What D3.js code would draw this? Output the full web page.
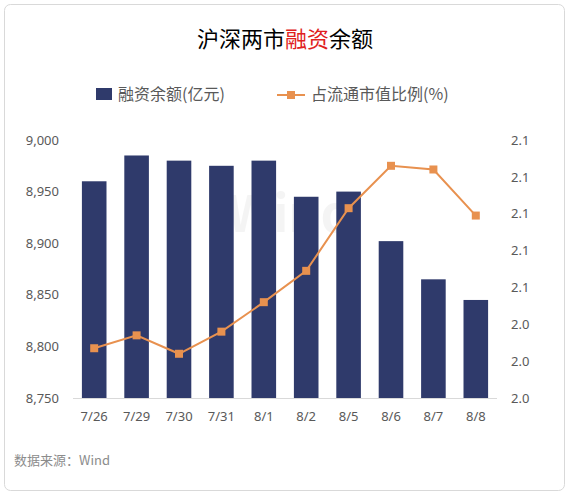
<!DOCTYPE html>
<html><head><meta charset="utf-8">
<script src="https://cdn.jsdelivr.net/npm/d3@7"></script>
<style>body{margin:0;background:#fff;font-family:"Noto Sans CJK SC","Noto Sans",sans-serif}</style>
</head><body><svg id="c" width="570" height="497"></svg>
<script>
const categories=["7/26","7/29","7/30","7/31","8/1","8/2","8/5","8/6","8/7","8/8"];
const balance=[8960,8985,8980,8975,8980,8945,8950,8902,8865,8845];
const ratio=[2.027,2.034,2.024,2.036,2.052,2.069,2.103,2.126,2.124,2.099];
const leftTicks=[8750,8800,8850,8900,8950,9000];
const rightTicks=[2.00,2.02,2.04,2.06,2.08,2.10,2.12,2.14];
const svg=d3.select("#c");
svg.append("rect").attr("x",4.5).attr("y",4.5).attr("width",560).attr("height",486).attr("rx",6).attr("fill","#fff").attr("stroke","#d9d9d9");
const L=73,R=497,T=140,B=398;
const x=d3.scaleBand().domain(categories).range([L,R]).paddingInner(0.42).paddingOuter(0.21);
const yL=d3.scaleLinear().domain([8750,9000]).range([B,T]);
const yR=d3.scaleLinear().domain([2.00,2.14]).range([B,T]);
const tc="#595959";
svg.append("text").attr("x",285).attr("y",47).attr("text-anchor","middle").attr("font-size",22).attr("fill","#000")
 .html('沪深两市<tspan fill="#e02020">融资</tspan>余额');
// legend
svg.append("rect").attr("x",96).attr("y",88).attr("width",16).attr("height",12).attr("fill","#2f3a6b");
svg.append("text").attr("x",118).attr("y",100).attr("font-size",16).attr("fill",tc).text("融资余额(亿元)");
svg.append("line").attr("x1",277).attr("x2",305).attr("y1",95).attr("y2",95).attr("stroke","#e8914f").attr("stroke-width",2);
svg.append("rect").attr("x",287).attr("y",91).attr("width",8).attr("height",8).attr("fill","#e8914f");
svg.append("text").attr("x",311).attr("y",100).attr("font-size",16).attr("fill",tc).text("占流通市值比例(%)");
// axes
const gl=svg.append("g").attr("transform",`translate(${L},0)`).call(d3.axisLeft(yL).tickValues(leftTicks).tickSize(0).tickPadding(14));
const gr=svg.append("g").attr("transform",`translate(${R},0)`).call(d3.axisRight(yR).tickValues(rightTicks).tickSize(0).tickPadding(14).tickFormat(d3.format(".1f")));
const gb=svg.append("g").attr("transform",`translate(0,${B})`).call(d3.axisBottom(x).tickSize(0).tickPadding(14));
[gl,gr,gb].forEach(g=>{g.select(".domain").remove();g.selectAll("text").attr("font-size",13).attr("fill",tc).attr("font-family","Noto Sans, sans-serif");});
svg.append("line").attr("x1",L).attr("x2",R).attr("y1",B+0.5).attr("y2",B+0.5).attr("stroke","#d9d9d9");
// watermark
svg.append("text").attr("x",290).attr("y",232).attr("text-anchor","middle").attr("font-size",50).attr("font-weight","bold").attr("fill","#000").attr("opacity",0.04).text("Wind");
// bars
svg.selectAll(".bar").data(balance).join("rect").attr("x",(d,i)=>x(categories[i])).attr("width",x.bandwidth())
 .attr("y",d=>yL(d)).attr("height",d=>B-yL(d)).attr("fill","#2f3a6b");
// line
const cx=i=>x(categories[i])+x.bandwidth()/2;
svg.append("path").datum(ratio).attr("fill","none").attr("stroke","#e8914f").attr("stroke-width",2)
 .attr("d",d3.line().x((d,i)=>cx(i)).y(d=>yR(d)));
svg.selectAll(".pt").data(ratio).join("rect").attr("x",(d,i)=>cx(i)-4).attr("y",d=>yR(d)-4).attr("width",8).attr("height",8).attr("fill","#e8914f");
svg.append("text").attr("x",14).attr("y",465).attr("font-size",13).attr("fill","#8c8c8c").text("数据来源：Wind");
</script></body></html>
